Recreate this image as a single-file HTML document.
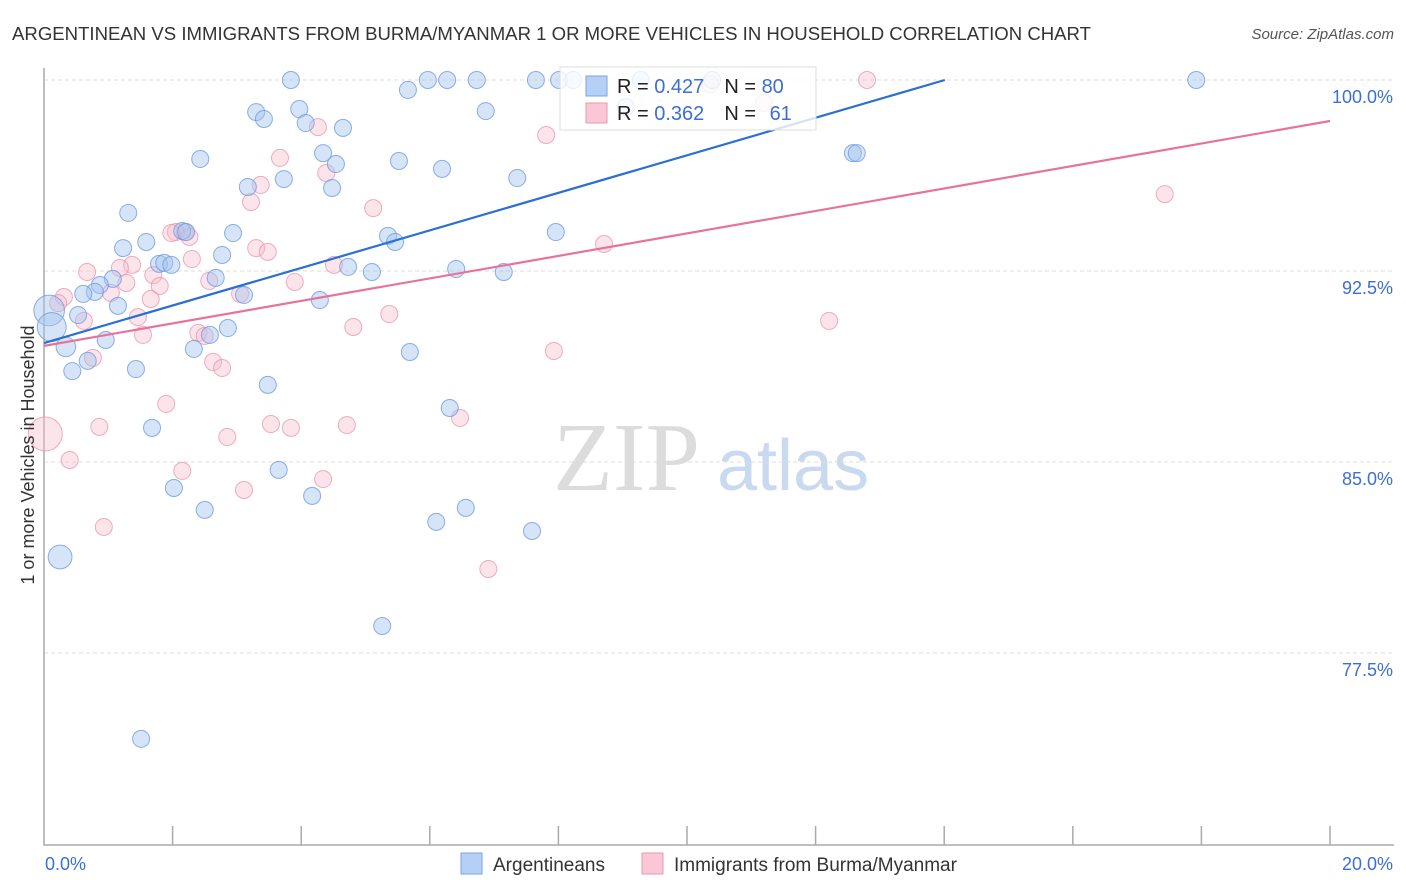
<!DOCTYPE html>
<html><head><meta charset="utf-8"><style>
html,body{margin:0;padding:0;background:#fff;}
svg{display:block;font-family:"Liberation Sans",sans-serif;}
</style></head><body>
<svg id="chart" width="1406" height="892" viewBox="0 0 1406 892">
<text x="12" y="40" font-size="18" fill="#333" textLength="1079" lengthAdjust="spacingAndGlyphs">ARGENTINEAN VS IMMIGRANTS FROM BURMA/MYANMAR 1 OR MORE VEHICLES IN HOUSEHOLD CORRELATION CHART</text>
<text x="1394" y="39" font-size="15" fill="#555" font-style="italic" text-anchor="end">Source: ZipAtlas.com</text>
<g>
<text x="553" y="490" font-family="Liberation Serif,serif" font-size="98" fill="#dcdcdc">ZIP</text>
<text x="717" y="490" font-size="72" fill="#c9d9f0">atlas</text>
</g>
<g id="grid"></g>
<g id="axes"></g>
<g id="pts"></g>
<g id="lines"></g>
<g>
<rect x="560" y="67" width="256" height="63" fill="#fff" fill-opacity="0.8" stroke="#ddd"/>
<rect x="586" y="76" width="21" height="20" fill="#b5cff5" stroke="#7ba4e0"/>
<text x="617" y="93" font-size="20" fill="#222">R = <tspan fill="#3b6fd4">0.427</tspan><tspan dx="20">N = </tspan><tspan fill="#3b6fd4">80</tspan></text>
<rect x="586" y="103" width="21" height="20" fill="#f9c7d6" stroke="#e89ab0"/>
<text x="617" y="120" font-size="20" fill="#222">R = <tspan fill="#3b6fd4">0.362</tspan><tspan dx="20">N = </tspan><tspan fill="#3b6fd4" dx="8">61</tspan></text>
</g>
<g>
<rect x="461" y="853" width="21" height="21" fill="#b5cff5" stroke="#7ba4e0"/>
<text x="493" y="871" font-size="19" fill="#333">Argentineans</text>
<rect x="642" y="853" width="21" height="21" fill="#f9c7d6" stroke="#e89ab0"/>
<text x="674" y="871" font-size="19" fill="#333">Immigrants from Burma/Myanmar</text>
</g>
<text transform="translate(34,455) rotate(-90)" font-size="18" fill="#333" text-anchor="middle">1 or more Vehicles in Household</text>
</svg>
<script>
const yTicks=[100,92.5,85,77.5];
const yTickLabels=["100.0%","92.5%","85.0%","77.5%"];
const xTickLabels=["0.0%","20.0%"];
const blueX=[3.84,5.97,6.27,6.73,7.65,8.01,8.23,9.28,10.39,17.92,5.66,9.05,3.97,6.87,3.30,3.42,4.07,4.65,4.34,4.54,2.43,5.52,6.19,12.58,12.64,7.36,3.73,3.17,4.48,1.31,2.94,2.15,2.21,5.35,7.96,5.46,1.59,1.23,2.77,1.79,1.87,1.98,4.73,5.10,6.41,7.15,2.67,1.07,0.87,0.79,0.61,3.11,4.29,1.15,0.53,0.08,0.12,0.96,2.58,2.86,0.34,2.33,5.69,0.68,0.44,1.43,3.48,6.31,1.68,3.65,2.02,4.17,2.50,6.10,6.56,7.59,0.25,5.26,1.51];
const blueY=[100,100,100,100,100,100,100,100,100,100,99.61,98.94,98.86,98.78,98.74,98.47,98.31,98.12,97.13,96.70,96.90,96.82,96.51,97.13,97.13,96.15,96.11,95.80,95.76,94.78,93.99,94.07,94.03,93.88,94.03,93.64,93.64,93.40,93.13,92.78,92.82,92.74,92.66,92.46,92.58,92.46,92.23,92.19,91.95,91.68,91.60,91.56,91.36,91.13,90.77,90.95,90.30,89.79,89.99,90.26,89.52,89.44,89.32,88.97,88.57,88.65,88.03,87.12,86.34,84.69,83.98,83.67,83.12,82.65,83.20,82.29,81.27,78.56,74.13];
const blueSize=[1,1,1,1,1,1,1,1,1,1,1,1,1,1,1,1,1,1,1,1,1,1,1,1,1,1,1,1,1,1,1,1,1,1,1,1,1,1,1,1,1,1,1,1,1,1,1,1,1,1,1,1,1,1,1,1.8,1.7,1,1,1,1.15,1,1,1,1,1,1,1,1,1,1,1,1,1,1,1,1.4,1,1];
const pinkX=[12.80,4.26,7.81,3.67,4.39,3.37,3.22,5.12,17.43,2.05,2.19,2.26,1.98,3.30,3.48,8.71,2.30,1.37,1.18,0.67,4.51,1.70,2.57,1.28,3.90,1.80,3.05,1.04,0.31,1.66,0.22,5.37,1.46,0.62,12.21,4.81,1.54,2.40,2.50,7.93,0.76,2.63,2.77,1.90,6.47,0.86,3.53,3.84,4.71,2.85,0.02,0.40,2.15,4.34,3.11,0.93,6.91,10.36,11.2];
const pinkY=[100,98.15,97.84,96.94,96.35,95.88,95.21,94.97,95.52,94.03,94.03,93.84,93.99,93.40,93.25,93.56,92.97,92.74,92.62,92.46,92.74,92.34,92.11,92.03,92.07,91.91,91.60,91.64,91.48,91.40,91.24,90.81,90.69,90.54,90.54,90.30,89.99,90.07,89.95,89.36,89.09,88.93,88.69,87.28,86.73,86.38,86.49,86.34,86.45,85.98,86.10,85.08,84.65,84.33,83.90,82.45,80.80,99.84,99.10];
const pinkSize=[1,1,1,1,1,1,1,1,1,1,1,1,1,1,1,1,1,1,1,1,1,1,1,1,1,1,1,1,1,1,1,1,1,1,1,1,1,1,1,1,1,1,1,1,1,1,1,1,1,1,2.0,1,1,1,1,1,1,1,1];
const blueTrendX=[0,14.01];
const blueTrendY=[89.67,100];
const pinkTrendX=[0,20];
const pinkTrendY=[89.56,98.39];

const NS="http://www.w3.org/2000/svg";
const X0=44,X1=1330,XMIN=0,XMAX=20;
const sx=v=>X0+(v-XMIN)/(XMAX-XMIN)*(X1-X0);
const sy=v=>80+(100-v)*(191/7.5);
function mk(tag,attrs,parent){const e=document.createElementNS(NS,tag);for(const k in attrs)e.setAttribute(k,attrs[k]);parent.appendChild(e);return e;}
const grid=document.getElementById('grid'),axes=document.getElementById('axes'),pts=document.getElementById('pts'),lines=document.getElementById('lines');
yTicks.forEach((t,i)=>{
  const l=mk('line',{x1:X0,x2:1394,y1:sy(t),y2:sy(t),stroke:'#ddd','stroke-dasharray':'4,3'},grid);
  
  
  const tx=mk('text',{x:1393,y:sy(t)+23,'font-size':18,fill:'#3b6fd4','text-anchor':'end'},axes);
  tx.textContent=yTickLabels[i];
  
  
});
const ax=mk('path',{d:`M${X0} 68 V845 H1394`,fill:'none',stroke:'#aaa','stroke-width':1.5},axes);


for(let v=2;v<=20;v+=2){
  const t=mk('line',{x1:sx(v),x2:sx(v),y1:826,y2:845,stroke:'#aaa','stroke-width':1.5},axes);
  
  
}
[[0,'start',45],[20,'end',1393]].forEach((d,i)=>{
  const tx=mk('text',{x:d[2],y:870,'font-size':18,fill:'#3b6fd4','text-anchor':d[1]},axes);
  tx.textContent=xTickLabels[i];
  
  
});
function drawSeries(xs,ys,ss,fill,stroke,name){
  xs.forEach((x,i)=>{
    const c=mk('circle',{cx:sx(x),cy:sy(ys[i]),r:8.5*ss[i],fill:fill,stroke:stroke,'stroke-width':1},pts);
    
    
  });
}
drawSeries(pinkX,pinkY,pinkSize,'rgba(248,188,206,0.4)','rgba(232,140,168,0.7)','point-burma');
drawSeries(blueX,blueY,blueSize,'rgba(164,196,240,0.45)','rgba(110,155,225,0.8)','point-argentinean');
const bl=mk('line',{x1:sx(blueTrendX[0]),y1:sy(blueTrendY[0]),x2:sx(blueTrendX[1]),y2:sy(blueTrendY[1]),stroke:'#2a6fd4','stroke-width':2.2},lines);


const pl=mk('line',{x1:sx(pinkTrendX[0]),y1:sy(pinkTrendY[0]),x2:sx(pinkTrendX[1]),y2:sy(pinkTrendY[1]),stroke:'#e8739a','stroke-width':2.2},lines);


</script>
</body></html>
